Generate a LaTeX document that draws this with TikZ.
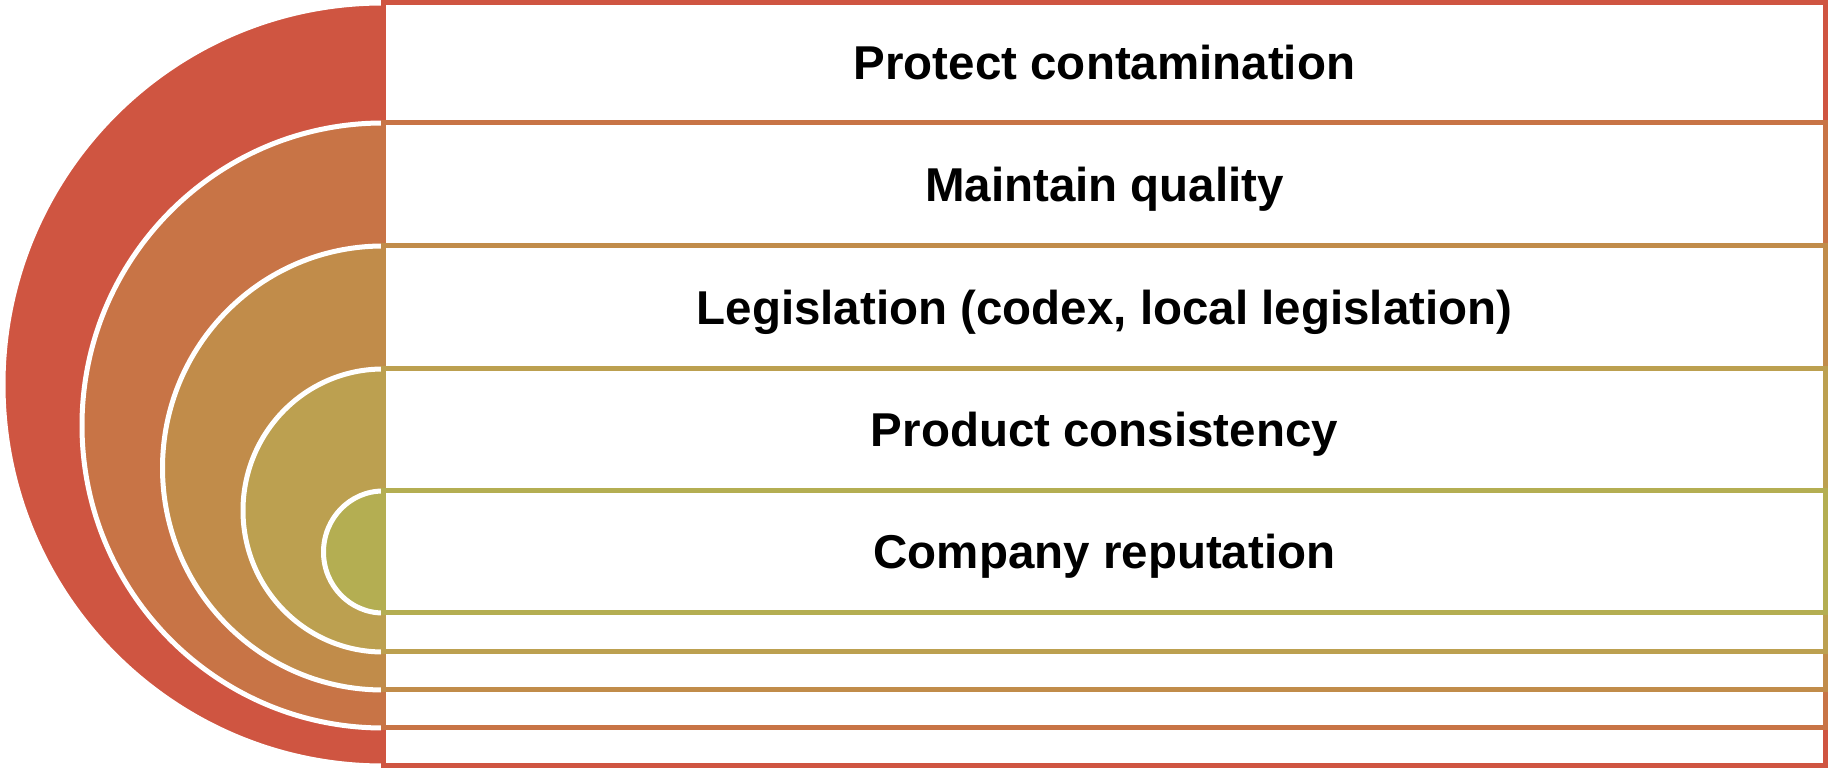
\documentclass[tikz,border=0pt]{standalone}
\usepackage{fontspec}
\setmainfont{Liberation Sans}
\definecolor{ringA}{HTML}{CF5541}
\definecolor{ringB}{HTML}{C87446}
\definecolor{ringC}{HTML}{C18C4A}
\definecolor{ringD}{HTML}{BCA050}
\definecolor{ringE}{HTML}{B4AE52}
\begin{document}
\begin{tikzpicture}[x=0.5pt,y=-0.5pt,
  halfdisc/.style={draw=white, line width=2.5pt},
  frame/.style={line width=2.5pt, fill=white},
  label/.style={font=\bfseries\fontsize{23.75}{28}\selectfont, anchor=base, inner sep=0pt}]
\useasboundingbox (0,0) rectangle (1828,769);
% nested half discs, one per level (top / bottom of each level)
\foreach \t/\b/\c in {3/766/ringA, 123/728/ringB, 246/690/ringC, 369/652/ringD, 491/613/ringE} {
  \pgfmathsetmacro\r{(\b-\t)/2}
  \pgfmathsetmacro\m{(\b+\t)/2}
  \begin{scope}
    \clip (-10,\t-10) rectangle (383,\b+10);
    \filldraw[halfdisc, fill=\c] (383,\m) ellipse [x radius=\r-1.5, y radius=\r];
  \end{scope}
}
% nested frames
\foreach \t/\b/\c in {3/766/ringA, 123/728/ringB, 246/690/ringC, 369/652/ringD, 491/613/ringE} {
  \draw[frame, draw=\c] (383,\t) rectangle (1825,\b);
}
% level labels
\node[label] (l1) at (1104.5,80) {Protect contamination};
\node[label] (l2) at (1104.5,201.5) {Maintain quality};
\node[label] (l3) at (1104.5,324.5) {Legislation (codex, local legislation)};
\node[label] (l4) at (1104.5,447) {Product consistency};
\node[label] (l5) at (1104.5,569) {Company reputation};
\end{tikzpicture}
\end{document}
